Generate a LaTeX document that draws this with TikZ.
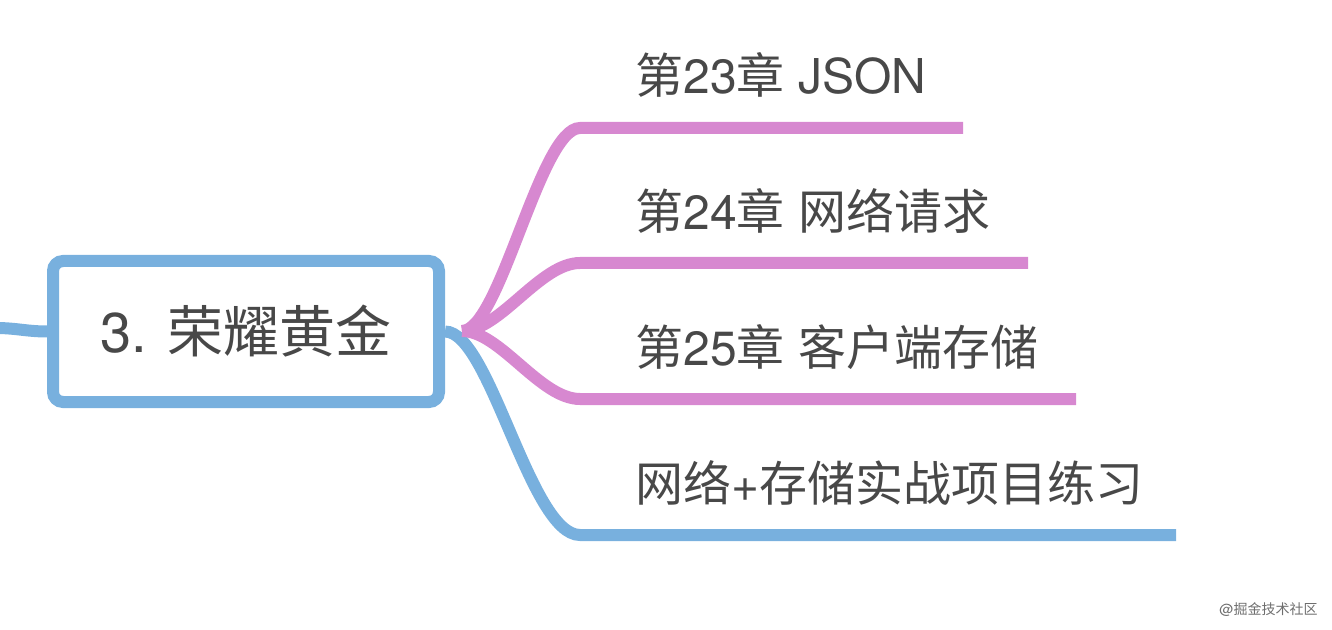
\documentclass[tikz,border=0pt]{standalone}
\usepackage{fontspec}
\setmainfont{TeX Gyre Heros}
\newfontfamily\cjk{Noto Sans CJK SC}
\newcommand{\zh}[1]{{\cjk #1}}
\usetikzlibrary{positioning}
\definecolor{mapblue}{RGB}{120,176,222}
\definecolor{mappink}{RGB}{215,136,208}
\definecolor{maptext}{RGB}{72,72,72}
\definecolor{wmgray}{RGB}{110,110,110}
\tikzset{
  rootbox/.style={rectangle, rounded corners=5pt, draw=mapblue, line width=6pt,
    fill=white, minimum width=193pt, minimum height=70.5pt, inner sep=0pt,
    font=\fontsize{28}{32}\selectfont, text=maptext},
  topic/.style={anchor=base west, inner sep=0pt,
    font=\fontsize{24}{28}\selectfont, text=maptext},
  pinkbranch/.style={draw=mappink, line width=6pt},
  bluebranch/.style={draw=mapblue, line width=6pt},
  watermark/.style={inner sep=0pt, font=\fontsize{7}{8}\selectfont, text=wmgray}
}
\begin{document}
\begin{tikzpicture}[x=0.5pt, y=-0.5pt]
  \useasboundingbox (0,0) rectangle (1332,630);

  % --- anchor points of the branches ---
  \coordinate (inlet) at (-4,328);
  \coordinate (hub) at (462,331);
  \coordinate (s1) at (580,128);  \coordinate (e1) at (963,128);
  \coordinate (s2) at (580,263);  \coordinate (e2) at (1028,263);
  \coordinate (s3) at (580,399);  \coordinate (e3) at (1076,399);
  \coordinate (s4) at (580,535);  \coordinate (e4) at (1176,535);

  % --- central topic ---
  \node[rootbox] (root) at (246,331.5) {3. \zh{荣耀黄金}};

  % ---------------- branches ----------------
  \draw[bluebranch] (inlet) .. controls +(20,0) and +(-20,0) .. (root.west);
  \draw[bluebranch] (root.east) .. controls +(45,0) and +(-50,0) .. (s4) -- (e4);
  \draw[pinkbranch] (hub) .. controls +(38,0) and +(-40,0) .. (s1) -- (e1);
  \draw[pinkbranch] (hub) .. controls +(38,0) and +(-40,0) .. (s2) -- (e2);
  \draw[pinkbranch] (hub) .. controls +(38,0) and +(-40,0) .. (s3) -- (e3);

  % --- subtopics ---
  \node[topic] (t1) at (635,94)  {\zh{第}23\zh{章} JSON};
  \node[topic] (t2) at (635,230) {\zh{第}24\zh{章} \zh{网络请求}};
  \node[topic] (t3) at (635,365) {\zh{第}25\zh{章} \zh{客户端存储}};
  \node[topic] (t4) at (635,501) {\zh{网络}+\zh{存储实战项目练习}};

  \node[watermark, anchor=east] (wm) at (1318,610) {@\zh{掘金技术社区}};

\end{tikzpicture}
\end{document}
